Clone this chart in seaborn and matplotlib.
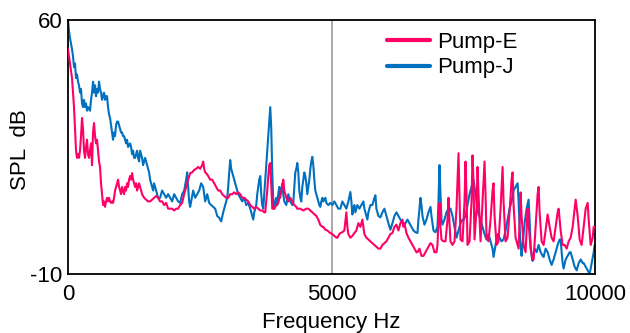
import matplotlib
matplotlib.use("Agg")
import matplotlib.pyplot as plt
import seaborn as sns
import pandas as pd

# ---------------- data ----------------
freq_j = [0, 19, 38, 76, 95, 114, 133, 152, 171, 190, 209, 228, 247, 266, 285, 304, 323, 342, 361, 380, 418, 437, 456, 475, 494, 513, 532, 551, 570, 589, 608, 627, 646, 665, 684, 703, 722, 741, 760, 779, 798, 817, 836, 855, 874, 893, 912, 931, 950, 969, 988, 1007, 1026, 1045, 1064, 1083, 1102, 1121, 1140, 1178, 1197, 1216, 1235, 1254, 1273, 1292, 1311, 1330, 1349, 1368, 1387, 1406, 1425, 1444, 1463, 1482, 1501, 1520, 1539, 1558, 1577, 1596, 1615, 1634, 1653, 1672, 1691, 1710, 1748, 1786, 1824, 1862, 1900, 1938, 1976, 2014, 2052, 2090, 2128, 2166, 2204, 2242, 2261, 2280, 2299, 2318, 2337, 2375, 2413, 2451, 2489, 2527, 2565, 2603, 2641, 2679, 2717, 2755, 2793, 2831, 2869, 2907, 2945, 2983, 3021, 3040, 3059, 3078, 3097, 3116, 3154, 3192, 3230, 3268, 3306, 3344, 3382, 3420, 3458, 3496, 3515, 3534, 3553, 3572, 3591, 3610, 3629, 3648, 3667, 3686, 3705, 3724, 3743, 3762, 3781, 3800, 3819, 3838, 3857, 3876, 3895, 3914, 3933, 3952, 3971, 3990, 4009, 4028, 4047, 4066, 4085, 4104, 4142, 4180, 4218, 4256, 4275, 4294, 4313, 4332, 4351, 4370, 4389, 4408, 4427, 4446, 4465, 4484, 4503, 4522, 4541, 4560, 4579, 4598, 4617, 4636, 4655, 4674, 4693, 4712, 4731, 4750, 4769, 4788, 4807, 4826, 4845, 4883, 4902, 4940, 4978, 5016, 5054, 5092, 5130, 5168, 5206, 5244, 5282, 5320, 5358, 5377, 5396, 5415, 5434, 5453, 5491, 5529, 5567, 5605, 5624, 5662, 5681, 5700, 5738, 5776, 5814, 5833, 5852, 5890, 5928, 5966, 6004, 6023, 6042, 6080, 6118, 6156, 6194, 6232, 6270, 6308, 6346, 6365, 6403, 6441, 6479, 6517, 6555, 6593, 6631, 6650, 6669, 6688, 6707, 6726, 6764, 6802, 6840, 6878, 6897, 6916, 6935, 6973, 7011, 7030, 7049, 7068, 7087, 7106, 7144, 7182, 7220, 7258, 7296, 7334, 7372, 7410, 7448, 7486, 7505, 7543, 7581, 7619, 7657, 7695, 7733, 7771, 7790, 7828, 7866, 7904, 7942, 7980, 8018, 8056, 8075, 8113, 8151, 8189, 8227, 8265, 8303, 8341, 8379, 8417, 8455, 8493, 8531, 8550, 8569, 8588, 8607, 8626, 8664, 8702, 8740, 8759, 8778, 8797, 8816, 8854, 8892, 8930, 8968, 9006, 9025, 9063, 9101, 9139, 9177, 9215, 9253, 9291, 9329, 9348, 9367, 9386, 9405, 9443, 9481, 9519, 9538, 9576, 9614, 9652, 9690, 9728, 9766, 9785, 9823, 9861, 9899, 9937, 9975, 9994]
spl_j = [60, 57, 55, 52, 50, 47, 48, 44, 45, 43, 42, 40, 41, 37, 36, 38, 36, 37, 35, 36, 35, 38, 40, 43, 40, 42, 39, 41, 40, 43, 41, 40, 38, 39, 40, 38, 39, 39, 36, 34, 33, 31, 29, 27, 29, 28, 31, 32, 32, 31, 30, 29, 29, 28, 28, 27, 26, 27, 25, 26, 25, 23, 24, 22, 22, 23, 24, 22, 21, 24, 23, 22, 20, 21, 22, 21, 20, 19, 18, 16, 15, 14, 13, 15, 14, 13, 12, 11, 11, 13, 12, 11, 12, 11, 10, 12, 11, 10, 9.6, 12, 13, 16, 18, 14, 10, 8.5, 10, 13, 11, 12, 13, 15, 14, 10, 12, 9.6, 9, 8.5, 8, 6, 5.5, 4.5, 7, 9, 11, 14, 18, 21.4, 19, 18, 16, 14, 12, 11, 10, 11, 9, 9.6, 8, 6, 5, 7, 8, 9, 12, 14, 16, 17, 12, 9, 8, 12, 16, 20, 24, 28, 32, 36, 30, 18, 10, 8, 10, 11, 9, 12, 14, 11, 13, 15, 12, 10, 9, 12, 10, 9, 9.6, 14, 18, 19, 20.6, 18, 13, 11, 10, 14, 16, 18, 17, 15, 12, 14, 16, 19, 21, 22.3, 20, 16, 13, 12, 11, 10, 9, 8.5, 10, 11, 10, 11, 9.6, 9, 9.6, 9, 10, 9, 8, 8, 10, 9, 8, 10, 12.6, 10, 6.4, 8, 9, 7, 9, 8, 9, 10, 8, 6, 5, 7, 9, 9, 11, 11.7, 8, 6, 5.6, 7, 8, 7, 6, 4, 2.2, 4, 6, 7, 6, 5, 4, 3.6, 4, 5, 4, 3, 2, 1.5, 1.3, 5, 8, 11, 9, 6, 3.6, 5, 7, 8.5, 6, 4, 2, 1.5, 3, 10, 20, 12, 5, 3.6, 5, 7, 8, 8, 6, 3, 0, 2, 4, 5, 4.8, 6, 9, 12, 14, 16, 12, 8, 6.4, 5, 3, 1, -0.5, 1, -1, -3, -5.3, -2, 1, 0, -1, -0.5, 2, 5, 8, 10, 13, 14, 15, 10, 3, -2, -5, -2, 4, 8, 10.5, 5, -2, -5, -6.4, -3, -4, -2, -4, -5, -5.3, -3, -4, -6, -7.5, -6, -4, -2, -0.5, -0.5, -4, -7, -8.5, -6, -5, -4, -4, -6, -8, -9, -7, -6, -7, -7, -8, -9, -10, -7, -4, -2]

freq_e = [0, 19, 38, 57, 76, 95, 114, 133, 152, 171, 190, 209, 228, 247, 266, 285, 304, 323, 342, 361, 380, 399, 418, 437, 456, 475, 494, 513, 532, 551, 570, 589, 608, 627, 646, 665, 684, 703, 722, 741, 760, 779, 798, 817, 836, 855, 874, 893, 912, 931, 950, 969, 988, 1007, 1026, 1045, 1064, 1083, 1102, 1121, 1140, 1159, 1178, 1197, 1216, 1235, 1254, 1273, 1292, 1311, 1330, 1349, 1368, 1387, 1406, 1444, 1482, 1520, 1558, 1596, 1634, 1672, 1710, 1748, 1786, 1824, 1862, 1900, 1938, 1976, 2014, 2052, 2090, 2128, 2166, 2204, 2242, 2280, 2318, 2356, 2394, 2432, 2470, 2508, 2546, 2565, 2584, 2603, 2622, 2660, 2698, 2736, 2774, 2812, 2850, 2888, 2926, 2964, 3002, 3040, 3078, 3116, 3154, 3192, 3230, 3268, 3306, 3344, 3382, 3420, 3458, 3496, 3534, 3572, 3610, 3648, 3686, 3724, 3743, 3762, 3781, 3800, 3819, 3838, 3857, 3876, 3914, 3952, 3990, 4028, 4066, 4085, 4104, 4142, 4180, 4218, 4256, 4294, 4332, 4351, 4408, 4465, 4522, 4560, 4598, 4636, 4674, 4712, 4750, 4788, 4826, 4845, 4883, 4921, 4959, 4978, 5016, 5054, 5092, 5111, 5130, 5149, 5168, 5206, 5244, 5282, 5301, 5320, 5358, 5396, 5434, 5472, 5510, 5548, 5586, 5605, 5624, 5662, 5700, 5738, 5776, 5814, 5852, 5890, 5928, 5966, 6004, 6042, 6080, 6118, 6156, 6194, 6232, 6270, 6308, 6346, 6365, 6384, 6422, 6460, 6498, 6536, 6574, 6612, 6631, 6669, 6707, 6745, 6783, 6821, 6859, 6878, 6916, 6954, 6992, 7011, 7030, 7049, 7068, 7087, 7125, 7163, 7201, 7220, 7239, 7258, 7296, 7334, 7372, 7410, 7429, 7448, 7486, 7524, 7543, 7562, 7581, 7619, 7657, 7676, 7695, 7714, 7752, 7771, 7790, 7828, 7866, 7904, 7923, 7942, 7980, 8018, 8056, 8075, 8094, 8132, 8170, 8208, 8246, 8265, 8303, 8341, 8379, 8417, 8436, 8455, 8493, 8531, 8550, 8569, 8588, 8607, 8645, 8683, 8702, 8721, 8740, 8778, 8816, 8835, 8873, 8911, 8930, 8949, 8987, 9025, 9063, 9101, 9139, 9177, 9215, 9253, 9291, 9310, 9348, 9386, 9424, 9462, 9500, 9538, 9576, 9614, 9633, 9671, 9709, 9747, 9785, 9823, 9861, 9880, 9918, 9956, 9975, 9994]
spl_e = [52, 50, 48, 46, 44, 40, 36, 30, 24, 22, 23, 22, 24, 28, 33, 30, 24, 22, 25, 27, 23, 22, 24, 26, 20, 29, 31.6, 28, 26, 27, 24, 21, 19.5, 15, 12, 9, 10, 8.5, 10, 11, 10, 11, 10, 9.6, 10, 9.6, 11, 13, 14, 15, 16, 14, 13, 12, 14, 13, 12, 14, 13, 15, 14, 16, 17, 16, 17.8, 16, 15, 14, 15, 13, 14, 15, 14, 13, 12, 11, 10.5, 10, 10, 10.5, 11, 11.5, 11, 10, 10, 9, 9.6, 8, 8, 8, 7.5, 8, 8, 9, 9.6, 12, 14, 16, 17.8, 18, 18.7, 19, 19.5, 19, 20, 21, 19, 18, 17.8, 17, 16, 16, 15, 14, 13, 13, 12, 11.5, 11, 11, 12, 12, 12.5, 12, 12.5, 12, 11, 11, 10.5, 10, 9, 8.5, 8, 8.5, 8, 7.5, 7.5, 7, 7, 10, 13, 17, 20, 20.6, 14, 8, 8, 9, 9.6, 12, 14, 16, 13, 11, 10, 11, 10, 9, 8.5, 8, 8, 7.5, 8, 8, 7.5, 7, 6.5, 6, 5, 3.5, 3, 3, 2.2, 2, 1.5, 1.3, 1, 0.5, 0, 0, 0.5, 1, 1.3, 1.5, 2, 7, 3, 1, 0, 0.5, 1.3, 2, 4, 3, 5, 3, 1, 0, -0.5, -1, -1.5, -2, -2.5, -3, -3, -2, -1.5, -1, 0, 1, 1.3, 3, 3.6, 2, 4, 5, 3, 4, 1.3, 0, -1, -2, -3, -4, -4, -3, -5, -5, -4, -3, -2, -1.5, -2, -4, -4, -2, 5, 9.6, 3, -0.5, -1, -1, 5, 11, 4, -1, -2, -1, 8, 23.3, 12, -0.5, -1, 10, 21, 12, -2, -1, 10, 22.7, 15, -0.5, 8, 19.5, 12, -1, 10, 21, 12, 0, -1, 5, 13, 15, 6, -2, -1, 8, 19.5, 10, -1, 0, 7, 16, 18, 9, 0, -2, -3, 4, 12.5, 6, -2, -4, 2, 8, 4, -3, -6, -6, 3, 12, 14, 7, -1, -2, 2, 6.4, 3, 0, -1, 3, 7, 8, 2, -2, -2, -3, -1, 0, 3, 8, 10.5, 6, -0.5, -2, 3, 8, 9.6, 5, -2, 0, 3, 3]

series_names = ["Pump-E", "Pump-J"]
colors = {"Pump-E": "#ff0066", "Pump-J": "#0070c0"}
x_ticks = [0, 5000, 10000]
y_ticks = [-10, 60]
x_label = "Frequency Hz"
y_label = "SPL  dB"

df_e = pd.DataFrame({"freq": freq_e, "spl": spl_e, "series": "Pump-E"})
df_j = pd.DataFrame({"freq": freq_j, "spl": spl_j, "series": "Pump-J"})

# ---------------- plot ----------------
sns.set_theme(style="white")
plt.rcParams["font.family"] = ["Liberation Sans", "DejaVu Sans"]
plt.rcParams["text.color"] = "black"
plt.rcParams["axes.labelcolor"] = "black"
plt.rcParams["xtick.color"] = "black"
plt.rcParams["ytick.color"] = "black"
FS = 16

fig = plt.figure(figsize=(6.3, 3.33), dpi=100)
ax = fig.add_axes([68 / 630, 1 - 274 / 333, 527 / 630, 254 / 333])

ax.axvline(5000, color="#aaaaaa", lw=1.4, zorder=1)
sns.lineplot(data=df_j, x="freq", y="spl", color=colors["Pump-J"], lw=1.5,
             ax=ax, label="Pump-J", zorder=2, sort=False)
sns.lineplot(data=df_e, x="freq", y="spl", color=colors["Pump-E"], lw=1.5,
             ax=ax, label="Pump-E", zorder=3, sort=False)

ax.set_xlim(0, 10000)
ax.set_ylim(-10, 60)
ax.set_xticks(x_ticks)
ax.set_yticks(y_ticks)
ax.set_xticklabels([str(t) for t in x_ticks], fontsize=FS)
ax.set_yticklabels([str(t) for t in y_ticks], fontsize=FS)
ax.tick_params(axis="y", length=0, pad=4)
ax.tick_params(axis="x", length=0, pad=7)
ax.set_xlabel(x_label, fontsize=FS, labelpad=5)
ax.set_ylabel(y_label, fontsize=FS)
ax.yaxis.set_label_coords(-0.071, 0.49)

for sp in ax.spines.values():
    sp.set_visible(True)
    sp.set_color("black")
    sp.set_linewidth(1.3)

handles, labels = ax.get_legend_handles_labels()
order = [labels.index(n) for n in series_names]
leg = ax.legend([handles[i] for i in order], [labels[i] for i in order],
                loc="upper left", bbox_to_anchor=(387 / 630, 1 - 32 / 333),
                bbox_transform=fig.transFigure, frameon=False,
                fontsize=FS, handlelength=1.95, handletextpad=0.3,
                labelspacing=0.2, borderaxespad=0.0, borderpad=0.0)
for line in leg.get_lines():
    line.set_linewidth(3)

fig.savefig("out.png", dpi=100)
